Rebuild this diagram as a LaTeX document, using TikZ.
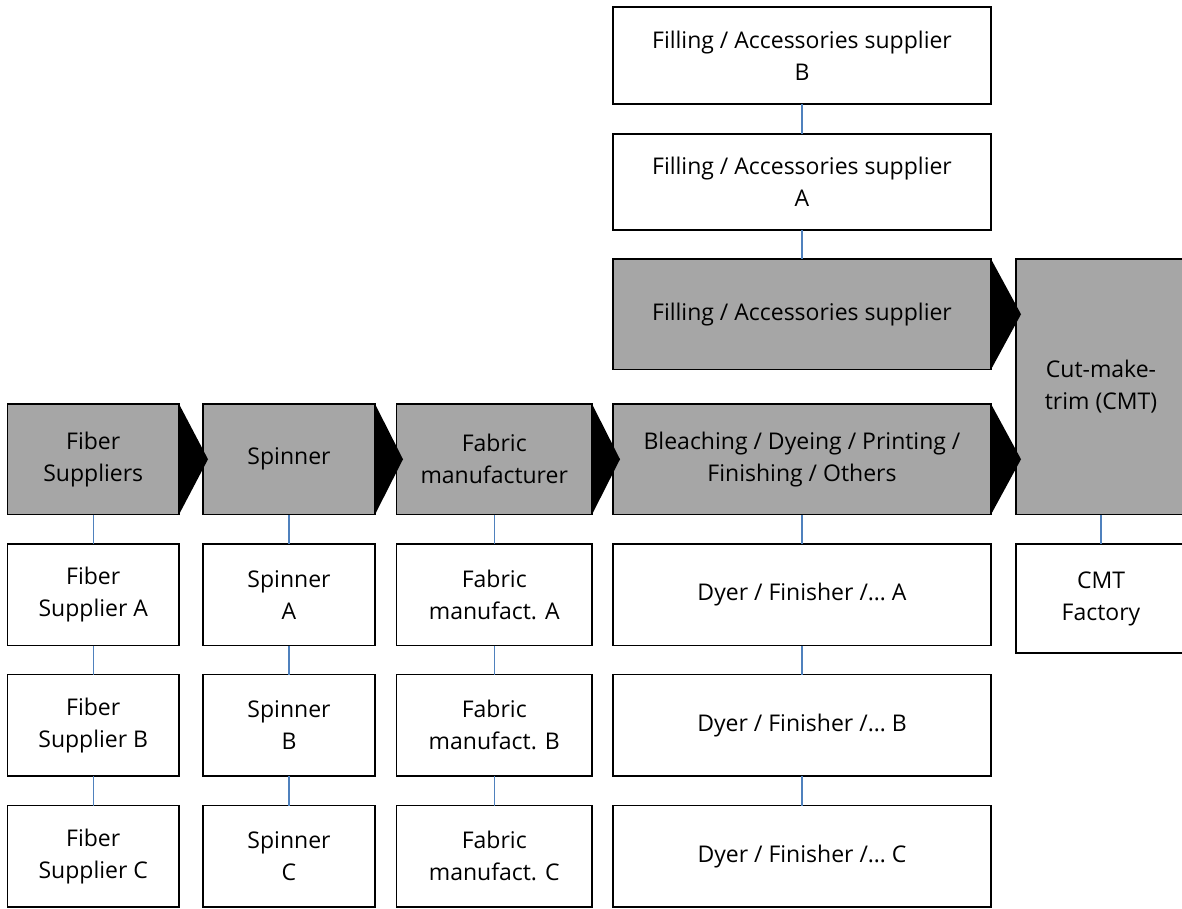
\documentclass[tikz,border=0pt]{standalone}
\usepackage{fontspec}
\setmainfont{Open Sans}
\definecolor{stagegray}{RGB}{166,166,166}
\definecolor{linkblue}{RGB}{79,129,189}
\tikzset{
  x=1pt, y=-1pt,
  base/.style={rectangle, inner sep=0pt, outer sep=0pt, align=center,
    font=\fontsize{23}{32}\selectfont, text=black},
  stage/.style={base, draw=black, line width=1.5pt, fill=stagegray},
  item/.style={base, draw=black, line width=1.3pt, fill=white},
  link/.style={draw=linkblue, line width=1.3pt},
  chev/.style={fill=black},
}
\begin{document}
\begin{tikzpicture}
\useasboundingbox (0,0) rectangle (1182,909);
\clip (0,0) rectangle (1182,909);
\fill[white] (0,0) rectangle (1182,909);
% stage boxes
\node[stage, minimum width=171.5pt, minimum height=110.5pt] (g1) at (93.25,459.25) {Fiber\\Suppliers};
\node[stage, minimum width=172pt, minimum height=110.5pt] (g2) at (289,459.25) {Spinner};
\node[stage, minimum width=195.5pt, minimum height=110.5pt] (g3) at (494.25,459.25) {Fabric\\manufacturer};
\node[stage, minimum width=378pt, minimum height=110.5pt] (g4) at (802,459.25) {Bleaching / Dyeing / Printing /\\Finishing / Others};
\node[stage, minimum width=378pt, minimum height=110.5pt] (gf) at (802,314.25) {Filling / Accessories supplier};
\node[stage, minimum width=170pt, minimum height=255.5pt] (gc) at (1101,386.75) {Cut-make-\\trim (CMT)};
% filling suppliers
\node[item, minimum width=378pt, minimum height=96pt] (fa) at (802,182) {Filling / Accessories supplier\\A};
\node[item, minimum width=378pt, minimum height=97pt] (fb) at (802,55.5) {Filling / Accessories supplier\\B};
% column 1
\node[item, minimum width=171.5pt, minimum height=101.5pt] (a1) at (93.25,594.75) {Fiber\\Supplier A};
\node[item, minimum width=171.5pt, minimum height=101.5pt] (a2) at (93.25,725.25) {Fiber\\Supplier B};
\node[item, minimum width=171.5pt, minimum height=101.5pt] (a3) at (93.25,856.25) {Fiber\\Supplier C};
% column 2
\node[item, minimum width=172pt, minimum height=101.5pt] (b1) at (289,594.75) {Spinner\\A};
\node[item, minimum width=172pt, minimum height=101.5pt] (b2) at (289,725.25) {Spinner\\B};
\node[item, minimum width=172pt, minimum height=101.5pt] (b3) at (289,856.25) {Spinner\\C};
% column 3
\node[item, minimum width=195.5pt, minimum height=101.5pt] (c1) at (494.25,594.75) {Fabric\\manufact. A};
\node[item, minimum width=195.5pt, minimum height=101.5pt] (c2) at (494.25,725.25) {Fabric\\manufact. B};
\node[item, minimum width=195.5pt, minimum height=101.5pt] (c3) at (494.25,856.25) {Fabric\\manufact. C};
% column 4
\node[item, minimum width=378pt, minimum height=101.5pt] (d1) at (802,594.75) {Dyer / Finisher /… A};
\node[item, minimum width=378pt, minimum height=101.5pt] (d2) at (802,725.25) {Dyer / Finisher /… B};
\node[item, minimum width=378pt, minimum height=101.5pt] (d3) at (802,856.25) {Dyer / Finisher /… C};
% column 5
\node[item, minimum width=170pt, minimum height=109pt] (e1) at (1101,598.5) {CMT\\Factory};
% chevron tips
\path (g1.east) ++(29,0) coordinate (t1);
\path (g2.east) ++(28,0) coordinate (t2);
\path (g3.east) ++(28,0) coordinate (t3);
\path (g4.east) ++(30,0) coordinate (t4);
\path (gf.east) ++(30,0) coordinate (tf);
\fill[chev] (g1.north east) -- (t1) -- (g1.south east) -- cycle;
\fill[chev] (g2.north east) -- (t2) -- (g2.south east) -- cycle;
\fill[chev] (g3.north east) -- (t3) -- (g3.south east) -- cycle;
\fill[chev] (g4.north east) -- (t4) -- (g4.south east) -- cycle;
\fill[chev] (gf.north east) -- (tf) -- (gf.south east) -- cycle;
% connectors
\draw[link] (g1.south) -- (a1.north);
\draw[link] (a1.south) -- (a2.north);
\draw[link] (a2.south) -- (a3.north);
\draw[link] (g2.south) -- (b1.north);
\draw[link] (b1.south) -- (b2.north);
\draw[link] (b2.south) -- (b3.north);
\draw[link] (g3.south) -- (c1.north);
\draw[link] (c1.south) -- (c2.north);
\draw[link] (c2.south) -- (c3.north);
\draw[link] (g4.south) -- (d1.north);
\draw[link] (d1.south) -- (d2.north);
\draw[link] (d2.south) -- (d3.north);
\draw[link, line width=2pt] (gc.south) -- (e1.north);
\draw[link] (fb.south) -- (fa.north);
\draw[link] (fa.south) -- (gf.north);
\end{tikzpicture}
\end{document}
